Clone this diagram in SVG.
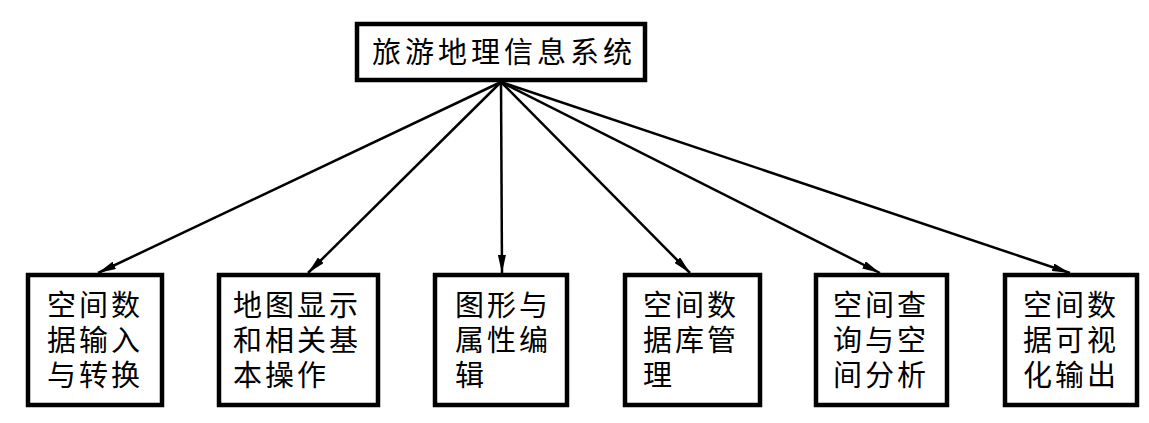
<svg xmlns="http://www.w3.org/2000/svg" width="1149" height="423" viewBox="0 0 1149 423">
<style>
.box{fill:#fff;stroke:#000;stroke-width:4.5}
.t{font-family:"Liberation Sans","Noto Sans CJK SC",sans-serif;font-size:29px;fill:#000;letter-spacing:3px}
.c{stroke:#000;stroke-width:2.5;fill:none}
</style>
<defs>
<marker id="ah" viewBox="0 0 18 8" refX="18" refY="4" markerWidth="18" markerHeight="8" markerUnits="userSpaceOnUse" orient="auto">
<path d="M0,0 L18,4 L0,8 Z" fill="#000"/>
</marker>
</defs>
<g id="connectors">
<line class="c" x1="501" y1="82" x2="98" y2="273" marker-end="url(#ah)"/>
<line class="c" x1="501" y1="82" x2="308" y2="273" marker-end="url(#ah)"/>
<line class="c" x1="501" y1="82" x2="502" y2="273" marker-end="url(#ah)"/>
<line class="c" x1="501" y1="82" x2="690" y2="273" marker-end="url(#ah)"/>
<line class="c" x1="501" y1="82" x2="880" y2="273" marker-end="url(#ah)"/>
<line class="c" x1="501" y1="82" x2="1070" y2="273" marker-end="url(#ah)"/>
</g>
<g id="root">
<rect class="box" x="357" y="24" width="288" height="56"/>
<text class="t" x="372" y="63" style="letter-spacing:4px">旅游地理信息系统</text>
</g>
<g id="n1">
<rect class="box" x="28" y="275" width="134" height="130"/>
<text class="t"><tspan x="47" y="316">空间数</tspan><tspan x="47" y="351">据输入</tspan><tspan x="47" y="386">与转换</tspan></text>
</g>
<g id="n2">
<rect class="box" x="219" y="275" width="159" height="130"/>
<text class="t"><tspan x="233" y="316">地图显示</tspan><tspan x="233" y="351">和相关基</tspan><tspan x="233" y="386">本操作</tspan></text>
</g>
<g id="n3">
<rect class="box" x="435" y="275" width="132" height="130"/>
<text class="t"><tspan x="455" y="316">图形与</tspan><tspan x="455" y="351">属性编</tspan><tspan x="455" y="386">辑</tspan></text>
</g>
<g id="n4">
<rect class="box" x="625" y="275" width="135" height="130"/>
<text class="t"><tspan x="643" y="316">空间数</tspan><tspan x="643" y="351">据库管</tspan><tspan x="643" y="386">理</tspan></text>
</g>
<g id="n5">
<rect class="box" x="816" y="275" width="131" height="130"/>
<text class="t"><tspan x="833" y="316">空间查</tspan><tspan x="833" y="351">询与空</tspan><tspan x="833" y="386">间分析</tspan></text>
</g>
<g id="n6">
<rect class="box" x="1005" y="275" width="132" height="130"/>
<text class="t"><tspan x="1023" y="316">空间数</tspan><tspan x="1023" y="351">据可视</tspan><tspan x="1023" y="386">化输出</tspan></text>
</g>
</svg>
